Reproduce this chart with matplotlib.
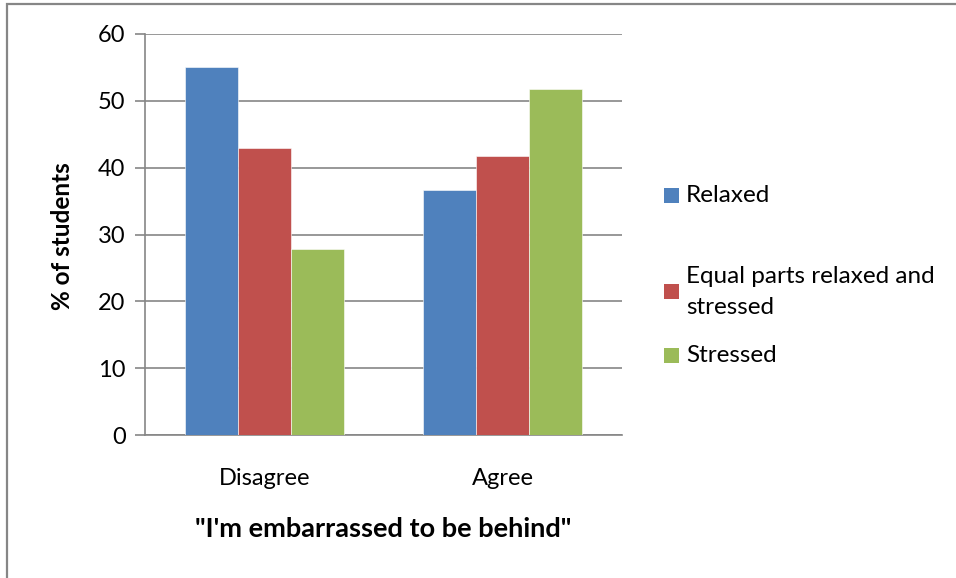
import numpy as np
import matplotlib
matplotlib.use("Agg")
import matplotlib.pyplot as plt
from matplotlib.patches import Rectangle

# survey answers and share of students per stress level
categories = ["Disagree", "Agree"]
series_names = ["Relaxed", "Equal parts relaxed and\nstressed", "Stressed"]
relaxed = [55.0, 36.6]
equal_parts = [43.0, 41.7]
stressed = [27.8, 51.8]
yticks = [0, 10, 20, 30, 40, 50, 60]

colors = ["#4F81BD", "#C0504D", "#9BBB59"]
grid_col = "#868686"

plt.rcParams['font.family'] = ['Lato', 'DejaVu Sans']

W, H = 956, 578
fig = plt.figure(figsize=(W / 100, H / 100), dpi=100)
fig.patch.set_facecolor("white")

# outer chart frame (runs off the right and bottom edges)
fig.add_artist(Rectangle((7 / W, -0.05), 1.2, 1 - 4 / H + 0.05,
                         transform=fig.transFigure, fill=False,
                         edgecolor=grid_col, linewidth=1.6))

ax = fig.add_axes([145 / W, 1 - 435 / H, (622 - 145) / W, (435 - 34) / H])

x = np.arange(len(categories))
w = 0.222
for i, vals in enumerate([relaxed, equal_parts, stressed]):
    ax.bar(x + (i - 1) * w, vals, width=w, color=colors[i], zorder=3,
           edgecolor="white", linewidth=0.4)

ax.set_xlim(-0.5, 1.5)
ax.set_ylim(0, 60)
ax.set_yticks(yticks)
ax.set_xticks(x)
ax.set_xticklabels(categories, fontsize=17)
ax.tick_params(axis="x", length=0, pad=24)
ax.tick_params(axis="y", length=7, width=1.2, color=grid_col, labelsize=17, pad=7)
ax.yaxis.grid(True, color=grid_col, linewidth=1.2, zorder=0)
for s in ["top", "right"]:
    ax.spines[s].set_visible(False)
ax.spines["left"].set_color(grid_col)
ax.spines["left"].set_linewidth(1.2)
ax.spines["bottom"].set_color(grid_col)
ax.spines["bottom"].set_linewidth(1.2)

fig.text(62 / W, 1 - 236 / H, "% of students", rotation=90, ha="center",
         va="center", fontsize=17.5, fontweight="bold")
fig.text(383 / W, 1 - 529 / H, "\"I'm embarrassed to be behind\"", ha="center",
         va="center", fontsize=19.5, fontweight="bold")

# legend drawn by hand to keep the uneven spacing
leg_y = [196, 292, 356]
for c, name, yy in zip(colors, series_names, leg_y):
    fig.add_artist(Rectangle((664 / W, 1 - (yy + 7) / H), 15 / W, 15 / H,
                             transform=fig.transFigure, facecolor=c,
                             edgecolor="none"))
    fig.text(686 / W, 1 - yy / H, name, ha="left", va="center", fontsize=17.5,
             linespacing=1.6)

fig.savefig("out.png", dpi=100)
